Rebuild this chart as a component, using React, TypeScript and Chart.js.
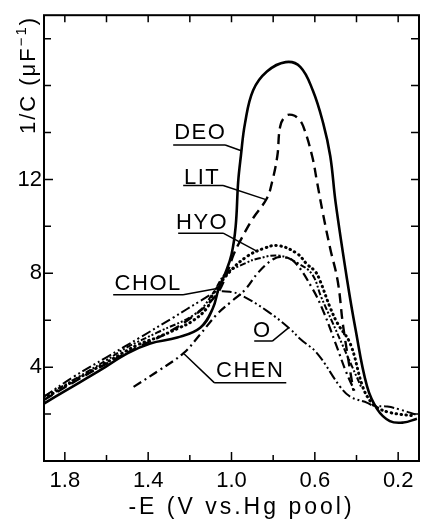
import React, { useEffect, useRef } from "react";
import { Chart, registerables } from "chart.js";
Chart.register(...registerables);

// ---- axis ticks ----
const xTickValues = [1.8, 1.6, 1.4, 1.2, 1.0, 0.8, 0.6, 0.4, 0.2];
const xTickLabels = ["1.8", "", "1.4", "", "1.0", "", "0.6", "", "0.2"];
const yTickValues = [2, 4, 6, 8, 10, 12, 14, 16, 18];
const yTickLabels = ["", "4", "", "8", "", "12", "", "", ""];

// ---- series: -E (V vs Hg pool) and 1/C (uF^-1) ----
const deoE = [1.9, 1.79, 1.63, 1.5, 1.39, 1.26, 1.15, 1.09, 1.06, 1.03, 1.0, 0.98, 0.968, 0.955, 0.935, 0.896, 0.83, 0.74, 0.67, 0.61, 0.56, 0.526, 0.5, 0.444, 0.406, 0.35, 0.3, 0.24, 0.175, 0.11];
const deoC = [2.45, 3.03, 3.87, 4.59, 5.01, 5.26, 5.68, 6.5, 7.4, 8.0, 8.8, 10.0, 11.9, 13.0, 14.4, 15.8, 16.6, 17.0, 16.8, 15.8, 14.4, 13.0, 11.0, 7.66, 5.68, 3.2, 2.2, 1.7, 1.64, 1.8];

const litE = [1.9, 1.75, 1.6, 1.45, 1.3, 1.18, 1.08, 1.03, 0.99, 0.96, 0.9, 0.83, 0.805, 0.78, 0.766, 0.74, 0.709, 0.68, 0.656, 0.613, 0.589, 0.56, 0.526, 0.49, 0.463, 0.415];
const litC = [2.6, 3.4, 4.15, 4.85, 5.5, 6.2, 7.0, 7.8, 8.8, 9.35, 10.3, 11.2, 11.9, 13.0, 14.27, 14.7, 14.75, 14.6, 14.27, 13.0, 11.87, 10.5, 9.05, 7.66, 5.68, 3.0];

const hyoE = [1.9, 1.75, 1.6, 1.45, 1.358, 1.26, 1.185, 1.117, 1.088, 1.007, 0.925, 0.848, 0.776, 0.685, 0.637, 0.598, 0.574, 0.526, 0.49, 0.43, 0.37, 0.33, 0.3, 0.237, 0.12];
const hyoC = [2.65, 3.45, 4.2, 4.95, 5.26, 5.64, 5.98, 6.53, 7.12, 8.08, 8.72, 9.05, 9.18, 8.84, 8.38, 8.08, 7.66, 6.53, 5.85, 5.0, 3.16, 2.5, 2.27, 2.06, 1.92];

const cholE = [1.9, 1.75, 1.6, 1.502, 1.358, 1.165, 1.088, 1.03, 0.935, 0.872, 0.77, 0.68, 0.613, 0.57, 0.52, 0.47, 0.42, 0.375];
const cholC = [2.75, 3.5, 4.3, 4.84, 5.47, 6.32, 7.16, 7.96, 8.42, 8.63, 8.75, 8.42, 7.96, 7.0, 6.0, 5.0, 4.0, 3.1];

const chenE = [1.47, 1.35, 1.23, 1.15, 1.07, 1.0, 0.935, 0.87, 0.8, 0.76, 0.7, 0.613, 0.56, 0.5, 0.45, 0.41];
const chenC = [3.16, 3.85, 4.6, 5.4, 6.25, 6.8, 7.3, 8.05, 8.6, 8.7, 8.5, 7.37, 6.4, 5.0, 3.8, 3.0];

const oE = [1.9, 1.76, 1.6, 1.44, 1.28, 1.15, 1.07, 1.0, 0.95, 0.83, 0.72, 0.67, 0.589, 0.478, 0.43, 0.348, 0.32, 0.252, 0.19, 0.117];
const oC = [2.74, 3.58, 4.42, 5.26, 6.11, 6.82, 7.2, 7.2, 7.05, 6.4, 5.64, 5.2, 4.59, 3.16, 2.74, 2.48, 2.36, 2.32, 2.19, 1.98];

// ---- curve labels ----
const labelNames = ["DEO", "LIT", "HYO", "CHOL", "O", "CHEN"];

// annotation layout (data coordinates)
const labelPos = [
  { x: 1.15, y: 13.98, u0: 1.28, u1: 1.03, uy: 13.47, px: 0.953, py: 13.22, from: 1 },
  { x: 1.141, y: 12.08, u0: 1.232, u1: 1.04, uy: 11.74, px: 0.838, py: 11.15, from: 1 },
  { x: 1.141, y: 10.13, u0: 1.256, u1: 1.04, uy: 9.71, px: 0.872, py: 8.91, from: 1 },
  { x: 1.4, y: 7.56, u0: 1.568, u1: 1.232, uy: 7.09, px: 1.069, py: 7.35, from: 1 },
  { x: 0.852, y: 5.53, u0: 0.891, u1: 0.804, uy: 5.11, px: 0.728, py: 5.66, from: 1 },
  { x: 0.91, y: 3.84, u0: 1.083, u1: 0.737, uy: 3.34, px: 1.227, py: 4.56, from: 0 },
];

const FONT = "'Liberation Sans', Arial, sans-serif";

const toPts = (xs: number[], ys: number[]) => xs.map((x, i) => ({ x, y: ys[i] }));

const annotPlugin = {
  id: "annot",
  afterDraw(chart: any) {
    const { ctx, chartArea, scales } = chart;
    const xs = scales.x, ys = scales.y;
    const X = (v: number) => xs.getPixelForValue(v);
    const Y = (v: number) => ys.getPixelForValue(v);
    ctx.save();
    ctx.strokeStyle = "#000";
    ctx.fillStyle = "#000";
    // frame
    ctx.lineWidth = 2;
    ctx.strokeRect(chartArea.left, chartArea.top, chartArea.right - chartArea.left, chartArea.bottom - chartArea.top);
    // inward ticks
    ctx.lineWidth = 1.5;
    ctx.beginPath();
    xTickValues.forEach((v, i) => {
      const len = xTickLabels[i] ? 9 : 6;
      const px = X(v);
      ctx.moveTo(px, chartArea.bottom);
      ctx.lineTo(px, chartArea.bottom - len);
      ctx.moveTo(px, chartArea.top);
      ctx.lineTo(px, chartArea.top + 7);
    });
    yTickValues.forEach((v, i) => {
      const len = yTickLabels[i] ? 9 : 7;
      const py = Y(v);
      ctx.moveTo(chartArea.left, py);
      ctx.lineTo(chartArea.left + len, py);
      ctx.moveTo(chartArea.right, py);
      ctx.lineTo(chartArea.right - 8, py);
    });
    ctx.stroke();

    // curve labels
    ctx.font = `22px ${FONT}`;
    (ctx as any).letterSpacing = "1.5px";
    ctx.textAlign = "center";
    ctx.textBaseline = "middle";
    labelNames.forEach((name, i) => {
      const p = labelPos[i];
      ctx.fillText(name, X(p.x), Y(p.y));
      ctx.lineWidth = 1.5;
      ctx.beginPath();
      ctx.moveTo(X(p.u0), Y(p.uy));
      ctx.lineTo(X(p.u1), Y(p.uy));
      const fx = p.from ? p.u1 : p.u0;
      ctx.moveTo(X(fx), Y(p.uy));
      ctx.lineTo(X(p.px), Y(p.py));
      ctx.stroke();
    });

    // x title
    ctx.font = `23px ${FONT}`;
    (ctx as any).letterSpacing = "3px";
    ctx.textAlign = "center";
    ctx.fillText("-E (V vs.Hg pool)", (chartArea.left + chartArea.right) / 2 + 10, 508);

    // y title (rotated)
    ctx.translate(29, 75);
    ctx.rotate(-Math.PI / 2);
    (ctx as any).letterSpacing = "2px";
    ctx.textAlign = "left";
    const big = `22px ${FONT}`, small = `15px ${FONT}`;
    ctx.font = big;
    const w1 = ctx.measureText("1/C (μF").width;
    const w3 = ctx.measureText(")").width;
    ctx.font = small;
    const w2 = ctx.measureText("−1").width;
    let x0 = -(w1 + w2 + w3) / 2;
    ctx.font = big;
    ctx.fillText("1/C (μF", x0, 0);
    ctx.font = small;
    ctx.fillText("−1", x0 + w1, -7);
    ctx.font = big;
    ctx.fillText(")", x0 + w1 + w2, 0);
    ctx.restore();
  },
};

export default function App() {
  const ref = useRef<HTMLCanvasElement | null>(null);
  useEffect(() => {
    if (!ref.current) return;
    const common = { pointRadius: 0, borderColor: "#000", fill: false, tension: 0.4 };
    const chart = new Chart(ref.current, {
      type: "line",
      data: {
        datasets: [
          { ...common, label: "DEO", data: toPts(deoE, deoC), borderWidth: 2.6 },
          { ...common, label: "LIT", data: toPts(litE, litC), borderWidth: 2.4, borderDash: [10, 6] },
          { ...common, label: "HYO", data: toPts(hyoE, hyoC), borderWidth: 3, borderDash: [0.5, 4.5], borderCapStyle: "round" },
          { ...common, label: "CHOL", data: toPts(cholE, cholC), borderWidth: 2, borderDash: [6, 2, 2, 2, 2, 2] },
          { ...common, label: "CHEN", data: toPts(chenE, chenC), borderWidth: 2.2, borderDash: [9, 4, 2, 4] },
          { ...common, label: "O", data: toPts(oE, oC), borderWidth: 2, borderDash: [10, 3, 2, 3, 2, 3] },
        ] as any,
      },
      options: {
        responsive: false,
        animation: false,
        layout: { padding: { top: 11, right: 6, left: 0, bottom: 0 } },
        plugins: { legend: { display: false }, tooltip: { enabled: false } },
        scales: {
          x: {
            type: "linear",
            reverse: true,
            min: 0.1,
            max: 1.9,
            afterBuildTicks: (s: any) => { s.ticks = xTickValues.map((v) => ({ value: v })); },
            afterFit: (s: any) => { s.height = 58; },
            grid: { display: false, drawTicks: false },
            border: { display: false },
            ticks: {
              autoSkip: false,
              maxRotation: 0,
              padding: 7,
              color: "#000",
              font: { family: FONT, size: 22 },
              callback: (_v: any, i: number) => xTickLabels[i],
            },
          },
          y: {
            type: "linear",
            min: 0,
            max: 19,
            afterBuildTicks: (s: any) => { s.ticks = yTickValues.map((v) => ({ value: v })); },
            afterFit: (s: any) => { s.width = 44; },
            grid: { display: false, drawTicks: false },
            border: { display: false },
            ticks: {
              autoSkip: false,
              padding: 2,
              color: "#000",
              font: { family: FONT, size: 22 },
              callback: (_v: any, i: number) => yTickLabels[i],
            },
          },
        },
      },
      plugins: [annotPlugin],
    });
    return () => chart.destroy();
  }, []);
  return (
    <div style={{ position: "absolute", left: 0, top: 0, width: 425, height: 519, background: "#fff" }}>
      <canvas ref={ref} width={425} height={519} style={{ display: "block" }} />
    </div>
  );
}
